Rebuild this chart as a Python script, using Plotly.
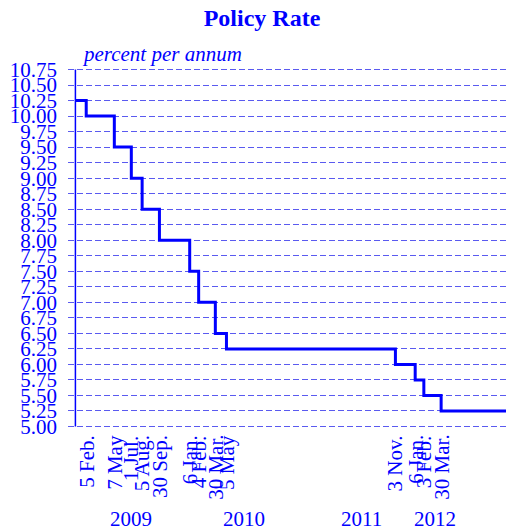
import plotly.graph_objects as go

# Policy rate change dates and rates (step function)
dates = ["2009-01-01", "2009-02-05", "2009-05-07", "2009-07-01", "2009-08-05",
         "2009-09-30", "2010-01-06", "2010-02-04", "2010-03-30", "2010-05-05",
         "2011-11-03", "2012-01-06", "2012-02-03", "2012-03-30", "2012-10-26"]
rates = [10.25, 10.00, 9.50, 9.00, 8.50, 8.00, 7.50, 7.00, 6.50, 6.25,
         6.00, 5.75, 5.50, 5.25, 5.25]

change_dates = dates[1:14]
change_labels = ["5 Feb.", "7 May", "1 Jul.", "5 Aug.", "30 Sep.",
                 "6 Jan.", "4 Feb.", "30 Mar.", "5 May",
                 "3 Nov.", "6 Jan.", "3 Feb.", "30 Mar."]

year_labels = ["2009", "2010", "2011", "2012"]
year_positions = ["2009-07-01", "2010-07-01", "2011-07-15", "2012-03-09"]

y_ticks = [5 + 0.25 * i for i in range(24)]
y_ticktext = [f"{v:.2f}" for v in y_ticks]

FONT = "Liberation Serif, Times New Roman, serif"
BLUE = "#0000FF"

W, H = 506, 531
ML, MT, MB = 68, 67, 102
plot_w = W - ML
plot_h = H - MT - MB

fig = go.Figure()
fig.add_trace(go.Scatter(
    x=dates, y=rates, mode="lines", line=dict(shape="hv", color=BLUE, width=3),
    showlegend=False, hoverinfo="skip"))

# vertical axis line at start of data
fig.add_shape(type="line", xref="x", yref="y", x0=dates[0], x1=dates[0],
              y0=5.0, y1=10.75, line=dict(color=BLUE, width=1.5))

annotations = []
for d, lab in zip(change_dates, change_labels):
    annotations.append(dict(x=d, xref="x", y=-4 / plot_h, yref="paper", text=lab,
                            textangle=-90, showarrow=False, xanchor="center",
                            yanchor="top", font=dict(family=FONT, size=21, color=BLUE)))
for d, lab in zip(year_positions, year_labels):
    annotations.append(dict(x=d, xref="x", y=-90 / plot_h, yref="paper", text=lab,
                            showarrow=False, xanchor="center", yanchor="middle",
                            font=dict(family=FONT, size=21, color=BLUE)))
annotations.append(dict(x=12 / plot_w, xref="paper", y=1.0, yref="paper",
                        text="<i>percent per annum</i>",
                        showarrow=False, xanchor="left", yanchor="bottom", yshift=-1,
                        font=dict(family=FONT, size=21, color=BLUE)))

fig.update_layout(
    width=W, height=H,
    margin=dict(l=ML, r=0, t=MT, b=MB),
    paper_bgcolor="white", plot_bgcolor="white",
    title=dict(text="<b>Policy Rate</b>", x=262 / W, xref="container", xanchor="center",
               y=1 - 18 / H, yref="container", yanchor="middle",
               font=dict(family=FONT, size=24, color=BLUE)),
    xaxis=dict(type="date", range=["2008-12-08", "2012-10-26"], showgrid=False,
               showticklabels=False, ticks="", zeroline=False, showline=False),
    yaxis=dict(range=[4.96, 10.79], tickmode="array", tickvals=y_ticks, ticktext=y_ticktext,
               showgrid=True, gridcolor="#5a5af0", gridwidth=1, griddash="6px,3px",
               zeroline=False, showline=False, ticks="", ticklabelstandoff=10,
               tickfont=dict(family=FONT, size=21, color=BLUE)),
    annotations=annotations,
)

fig.write_html("out.html", config={"displayModeBar": False},
               post_script="document.body.style.margin='0';document.body.style.overflow='hidden';")
